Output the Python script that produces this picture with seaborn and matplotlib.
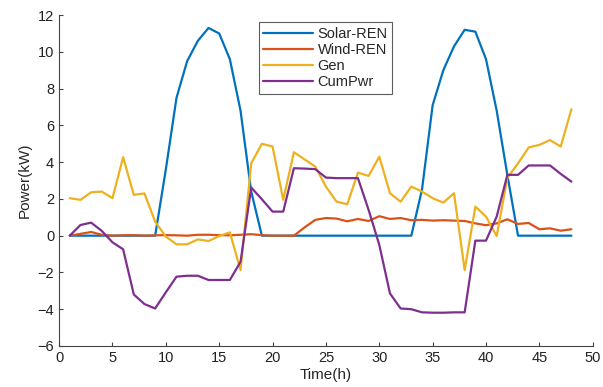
import numpy as np
import pandas as pd
import matplotlib
matplotlib.use("Agg")
import matplotlib.pyplot as plt
import seaborn as sns

hours = list(range(1, 49))
solar = [0, 0, 0, 0, 0, 0, 0, 0, 0, 3.6, 7.5, 9.5, 10.6, 11.3, 11.0, 9.6,
         6.8, 2.4, 0, 0, 0, 0, 0, 0, 0, 0, 0, 0, 0, 0, 0, 0,
         0, 2.5, 7.1, 9.0, 10.3, 11.2, 11.1, 9.6, 6.8, 3.3, 0, 0, 0, 0, 0, 0]
wind = [0, 0.1, 0.2, 0.05, 0, 0.02, 0.03, 0, 0.02, 0.03, 0.02, 0, 0.05, 0.05, 0.03, 0.02,
        0.05, 0.08, 0.03, 0, 0, 0, 0.45, 0.86, 0.96, 0.93, 0.78, 0.91, 0.8, 1.06, 0.91, 0.96,
        0.84, 0.86, 0.82, 0.84, 0.82, 0.8, 0.67, 0.57, 0.67, 0.89, 0.64, 0.69, 0.35, 0.4, 0.27, 0.35]
gen = [2.04, 1.95, 2.36, 2.4, 2.04, 4.27, 2.22, 2.3, 0.76, -0.05, -0.47, -0.47, -0.2, -0.29, -0.02, 0.18,
       -1.87, 3.94, 5.0, 4.85, 1.95, 4.54, 4.15, 3.76, 2.67, 1.85, 1.71, 3.43, 3.25, 4.3, 2.31, 1.85,
       2.67, 2.4, 2.04, 1.8, 2.31, -1.87, 1.58, 1.04, -0.02, 3.15, 3.94, 4.8, 4.94, 5.2, 4.85, 6.88]
cumpwr = [0, 0.58, 0.71, 0.26, -0.36, -0.74, -3.2, -3.72, -3.96, -3.08, -2.23, -2.18, -2.18, -2.41, -2.41, -2.41,
          -1.42, 2.62, 1.98, 1.31, 1.31, 3.67, 3.65, 3.62, 3.16, 3.13, 3.13, 3.13, 1.4, -0.5, -3.14, -3.96,
          -4.0, -4.17, -4.19, -4.19, -4.17, -4.17, -0.27, -0.27, 1.04, 3.31, 3.31, 3.82, 3.82, 3.82, 3.36, 2.94]
series_names = ["Solar-REN", "Wind-REN", "Gen", "CumPwr"]
colors = ["#0072BD", "#D95319", "#EDB120", "#7E2F8E"]

df = pd.DataFrame({"Time": hours * 4,
                   "Power": solar + wind + gen + cumpwr,
                   "Series": sum([[n] * len(hours) for n in series_names], [])})

sns.set_style("white")
plt.rcParams["font.family"] = ["Liberation Sans", "DejaVu Sans"]

fig = plt.figure(figsize=(6.03, 3.87), dpi=100)
ax = fig.add_axes([0.098, 0.106, 0.885, 0.855])
sns.lineplot(data=df, x="Time", y="Power", hue="Series", hue_order=series_names,
             palette=colors, linewidth=1.6, ax=ax)

ax.set_xlim(0, 50)
ax.set_ylim(-6, 12)
ax.set_xticks(range(0, 51, 5))
ax.set_yticks(range(-6, 13, 2))
ax.set_xlabel("Time(h)", fontsize=11, labelpad=2)
ax.set_ylabel("Power(kW)", fontsize=11, labelpad=4)
for s in ["top", "right"]:
    ax.spines[s].set_visible(False)
for s in ["left", "bottom"]:
    ax.spines[s].set_color("#444444")
    ax.spines[s].set_linewidth(0.8)
ax.tick_params(direction="in", length=3, width=0.8, colors="#444444",
               labelcolor="#222222", labelsize=10.5, left=True, bottom=True)

leg = ax.legend(loc="upper left", bbox_to_anchor=(0.374, 0.978), fontsize=10.5,
                handlelength=3.4, frameon=True, fancybox=False, borderpad=0.3,
                labelspacing=0.15, handletextpad=0.35, borderaxespad=0)
leg.get_frame().set_edgecolor("#333333")
leg.get_frame().set_linewidth(0.8)
for line in leg.get_lines():
    line.set_linewidth(1.6)

fig.savefig("out.png", dpi=100)
